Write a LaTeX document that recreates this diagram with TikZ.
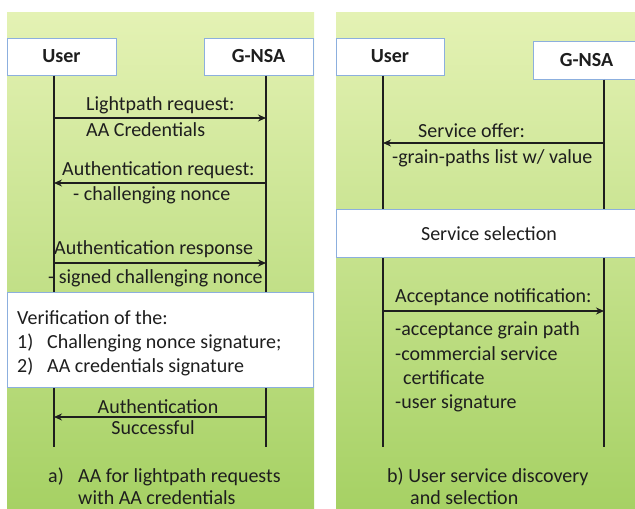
\documentclass[tikz,border=0pt]{standalone}
\usepackage{fontspec}
\setmainfont{Carlito}
\usetikzlibrary{arrows.meta}
\definecolor{paneltop}{RGB}{228,242,180}
\definecolor{panelbot}{RGB}{166,209,100}
\definecolor{boxline}{RGB}{140,175,222}
\definecolor{ink}{RGB}{30,30,30}
\begin{document}
\begin{tikzpicture}[x=1pt,y=-1pt,
  actor/.style={draw=boxline,line width=1pt,fill=white,text=ink,font=\fontsize{20}{22}\selectfont\bfseries,inner sep=0pt},
  band/.style={draw=boxline,line width=1pt,fill=white,inner sep=0pt},
  lifeline/.style={line width=1.6pt,draw=ink},
  msg/.style={line width=1.6pt,draw=ink,-{Stealth[length=8pt,width=7pt]}},
  lbl/.style={font=\fontsize{20}{22}\selectfont,text=ink,anchor=west,inner sep=0pt},
  ctr/.style={font=\fontsize{20}{22}\selectfont,text=ink,inner sep=0pt},
  captxt/.style={font=\fontsize{20}{22}\selectfont,text=ink,anchor=west,inner sep=0pt}]
\useasboundingbox (0,0) rectangle (635,509);
\fill[white] (0,0) rectangle (635,509);
% panels
\shade[top color=paneltop,bottom color=panelbot] (7,12) rectangle (314,509);
\shade[top color=paneltop,bottom color=panelbot] (336,12) rectangle (635,509);

% ---------- panel a ----------
\node[actor,minimum width=109pt,minimum height=37pt] (UA) at (61.5,56.5) {User};
\node[actor,minimum width=109pt,minimum height=37pt] (GA) at (258.5,56.5) {G-NSA};
\coordinate (uAend) at (54,447);
\coordinate (gAend) at (266,447);
\draw[lifeline] (UA.south -| uAend) -- (uAend);
\draw[lifeline] (GA.south -| gAend) -- (gAend);

\coordinate (a1u) at (54,118);  \coordinate (a1g) at (266,118);
\coordinate (a2u) at (54,183);  \coordinate (a2g) at (266,183);
\coordinate (a3u) at (54,263);  \coordinate (a3g) at (266,263);
\coordinate (a4u) at (54,417);  \coordinate (a4g) at (266,417);
\draw[msg] (a1u) -- (a1g);
\draw[msg] (a2g) -- (a2u);
\draw[msg] (a3u) -- (a3g);
\draw[msg] (a4g) -- (a4u);

\node[lbl] (t1a) at (86,105) {Lightpath request:};
\node[lbl] (t1b) at (86,130) {AA Credentials};
\node[lbl] (t2a) at (62,170) {Authentication request:};
\node[lbl] (t2b) at (73,195) {- challenging nonce};
\node[lbl] (t3a) at (54,249) {Authentication response};
\node[lbl] (t3b) at (48,278) {- signed challenging nonce};

\node[band,minimum width=306pt,minimum height=95pt] (VB) at (160,339.5) {};
\node[lbl] (v0) at (17,318) {Verification of the:};
\node[lbl] (v1n) at (17,343) {1)};
\node[lbl] (v1) at (47,343) {Challenging nonce signature;};
\node[lbl] (v2n) at (17,367) {2)};
\node[lbl] (v2) at (47,367) {AA credentials signature};

\node[ctr] (t4a) at (158,407) {Authentication};
\node[ctr] (t4b) at (153,428) {Successful};

\node[captxt] (ca) at (48,477) {a)};
\node[captxt] (cat) at (78,477) {AA for lightpath requests};
\node[captxt] (cat2) at (78,498) {with AA credentials};

% ---------- panel b ----------
\node[actor,minimum width=108pt,minimum height=37pt] (UB) at (390,56.5) {User};
\node[actor,minimum width=107pt,minimum height=38pt] (GB) at (586.5,60) {G-NSA};
\coordinate (uBend) at (383,447);
\coordinate (gBend) at (604,447);
\draw[lifeline] (UB.south -| uBend) -- (uBend);
\draw[lifeline] (GB.south -| gBend) -- (gBend);

\coordinate (b1u) at (383,143);  \coordinate (b1g) at (604,143);
\coordinate (b2u) at (383,311);  \coordinate (b2g) at (604,311);
\draw[msg] (b1g) -- (b1u);
\draw[msg] (b2u) -- (b2g);

\node[band,minimum width=304pt,minimum height=48pt] (SS) at (488,233) {};
\node[ctr] (sst) at (489,234) {Service selection};

\node[lbl] (s1a) at (418,131) {Service offer:};
\node[lbl] (s1b) at (392,158) {-grain-paths list w/ value};
\node[lbl] (s2a) at (395,297) {Acceptance notification:};
\node[lbl] (s2b) at (395,330) {-acceptance grain path};
\node[lbl] (s2c) at (395,354) {-commercial service};
\node[lbl] (s2d) at (403,378) {certificate};
\node[lbl] (s2e) at (395,403) {-user signature};

\node[captxt] (cb) at (387,477) {b) User service discovery};
\node[captxt] (cb2) at (410,498) {and selection};
\end{tikzpicture}
\end{document}
